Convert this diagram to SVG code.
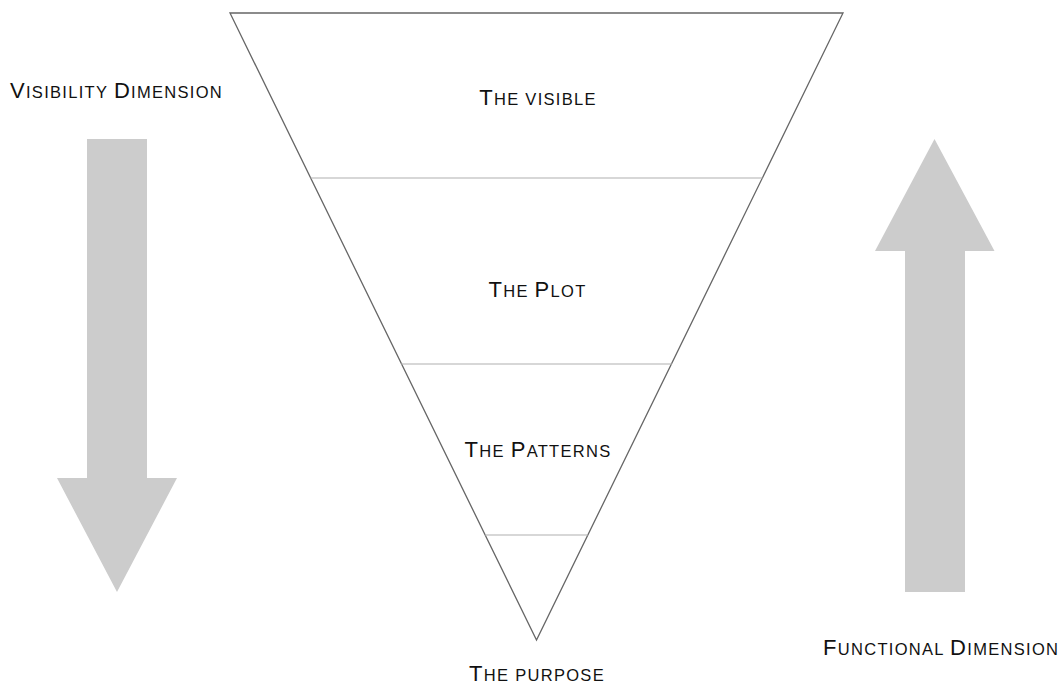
<svg xmlns="http://www.w3.org/2000/svg" width="1060" height="685" viewBox="0 0 1060 685">
<style>
text{font-family:"Liberation Sans",Arial,sans-serif;font-size:22px;letter-spacing:1.3px;fill:#111}
.s{font-size:16.5px}
.c{text-anchor:middle}
.arrow{fill:#cccccc}
.div{stroke:#b0b0b0;stroke-width:1.2;fill:none}
</style>
<rect width="1060" height="685" fill="#fff"/>
<g id="funnel">
<polygon points="230,13 843,13 536.5,640" fill="#fff" stroke="#666" stroke-width="1.3"/>
</g>
<g id="connectors">
<line class="div" x1="310.5" y1="178" x2="762.5" y2="178"/>
<line class="div" x1="401" y1="364" x2="672" y2="364"/>
<line class="div" x1="485" y1="535" x2="588" y2="535"/>
</g>
<g id="layer-visible"><text class="c" x="538" y="105">T<tspan class="s">HE VISIBLE</tspan></text></g>
<g id="layer-plot"><text class="c" x="537.5" y="297">T<tspan class="s">HE </tspan>P<tspan class="s">LOT</tspan></text></g>
<g id="layer-patterns"><text class="c" x="538" y="457">T<tspan class="s">HE </tspan>P<tspan class="s">ATTERNS</tspan></text></g>
<g id="layer-purpose"><text class="c" x="537" y="681">T<tspan class="s">HE PURPOSE</tspan></text></g>
<g id="visibility-arrow">
<polygon class="arrow" points="87,139 147,139 147,478 177,478 117,592 57,478 87,478"/>
<text x="10" y="98">V<tspan class="s">ISIBILITY </tspan>D<tspan class="s">IMENSION</tspan></text>
</g>
<g id="functional-arrow">
<polygon class="arrow" points="934.5,139 994.5,251 965,251 965,592 905,592 905,251 875,251"/>
<text x="823" y="655">F<tspan class="s">UNCTIONAL </tspan>D<tspan class="s">IMENSION</tspan></text>
</g>
</svg>
